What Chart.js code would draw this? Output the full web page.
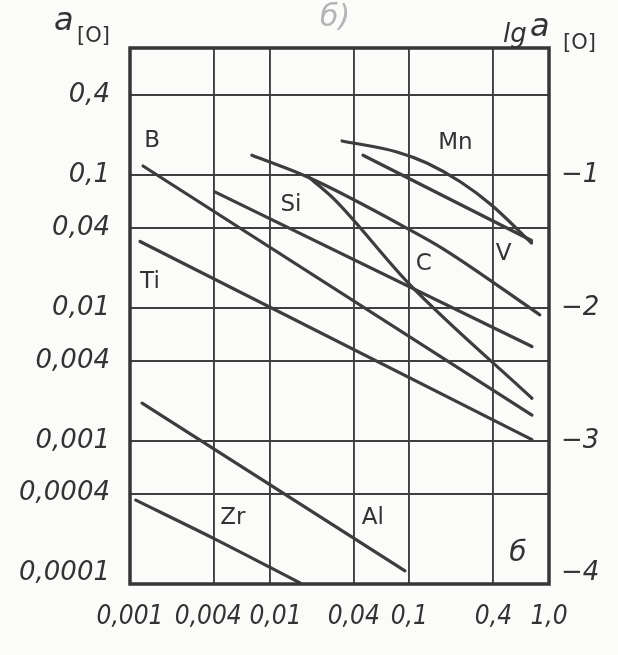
<!DOCTYPE html>
<html>
<head>
<meta charset="utf-8">
<script src="https://cdn.jsdelivr.net/npm/chart.js@4"></script>
<style>
  html, body { margin: 0; padding: 0; background: #fbfbf9; }
</style>
</head>
<body>
<canvas id="myChart" width="618" height="655"></canvas>
<script>
// axes (log-log), labels written with decimal commas as in the original
const xTicks = [0.001, 0.004, 0.01, 0.04, 0.1, 0.4, 1.0];
const xTickLabels = ['0,001', '0,004', '0,01', '0,04', '0,1', '0,4', '1,0'];
const yTicks = [0.4, 0.1, 0.04, 0.01, 0.004, 0.001, 0.0004, 0.0001];
const yTickLabels = ['0,4', '0,1', '0,04', '0,01', '0,004', '0,001', '0,0004', '0,0001'];
const lgTicks = [0.1, 0.01, 0.001, 0.0001];
const lgTickLabels = ['\u22121', '\u22122', '\u22123', '\u22124'];

// curves: element content (x) and a[O] (y)
const mnX = [0.033, 0.0815, 0.1334, 0.2333, 0.3873, 0.75];
const mnY = [0.1806, 0.1493, 0.1233, 0.0887, 0.0595, 0.0308];
const mn2X = [0.0466, 0.75];
const mn2Y = [0.141, 0.0322];
const vX = [0.00746, 0.0194, 0.1, 0.178, 0.86];
const vY = [0.141, 0.095, 0.0389, 0.0275, 0.00887];
const cX = [0.0194, 0.0293, 0.1, 0.755];
const cY = [0.095, 0.065, 0.0151, 0.00209];
const siX = [0.00405, 0.755];
const siY = [0.0747, 0.00512];
const bX = [0.00124, 0.755];
const bY = [0.117, 0.00156];
const tiX = [0.00118, 0.755];
const tiY = [0.0316, 0.00102];
const alX = [0.00122, 0.0931];
const alY = [0.00192, 0.000105];
const zrX = [0.0011, 0.00393, 0.0165];
const zrY = [0.000357, 0.000185, 0.000085];

// text written inside the plot
const noteText = ['B', 'Si', 'Ti', 'Mn', 'C', 'V', 'Al', 'Zr'];
const noteX = [0.00144, 0.0142, 0.00139, 0.214, 0.127, 0.474, 0.0548, 0.00546];
const noteY = [0.182, 0.0597, 0.0156, 0.173, 0.0213, 0.0253, 0.000262, 0.000262];

function pts(xs, ys) {
    return xs.map((x, i) => ({ x: x, y: ys[i] }));
}

function line(label, xs, ys, smooth) {
    return {
        label: label,
        data: pts(xs, ys),
        borderColor: '#3d3d3d',
        borderWidth: 3.2,
        borderCapStyle: 'round',
        pointRadius: 0,
        cubicInterpolationMode: smooth ? 'monotone' : 'default',
        tension: smooth ? 0.4 : 0,
        fill: false,
    };
}

const gridColor = c => (c.tick && c.tick.value === 0.0001) ? 'rgba(0,0,0,0)' : '#3f3f3f';

const paper = {
    id: 'paper',
    beforeDraw(chart) {
        const c = chart.ctx;
        c.save();
        c.fillStyle = '#fbfbf9';
        c.fillRect(0, 0, chart.width, chart.height);
        c.restore();
    },
    afterDatasetsDraw(chart) {
        const c = chart.ctx;
        const a = chart.chartArea;
        const sx = chart.scales.x, sy = chart.scales.y;
        c.save();
        // frame
        c.strokeStyle = '#363636';
        c.lineWidth = 3.5;
        c.strokeRect(a.left, a.top, a.right - a.left, a.bottom - a.top);

        // element names
        c.fillStyle = '#333';
        c.font = '23px "DejaVu Sans"';
        c.textAlign = 'center';
        c.textBaseline = 'middle';
        noteText.forEach((t, i) => {
            c.fillText(t, sx.getPixelForValue(noteX[i]), sy.getPixelForValue(noteY[i]));
        });
        c.font = 'italic 28px "DejaVu Sans"';
        c.fillText('\u0431', a.right - 31, a.bottom - 30);

        // axis titles
        c.textAlign = 'left';
        c.textBaseline = 'alphabetic';
        c.font = 'italic 32px "DejaVu Sans"';
        c.fillText('a', a.left - 76, 30);
        c.font = '21px "DejaVu Sans"';
        c.fillText('[O]', a.left - 53, 42);

        c.font = 'italic 26px "DejaVu Sans"';
        c.fillText('lg', a.right - 46, 42);
        c.font = 'italic 32px "DejaVu Sans"';
        c.fillText('a', a.right - 19, 36);
        c.font = '21px "DejaVu Sans"';
        c.fillText('[O]', a.right + 14, 49);

        // faint part letter at the top
        c.fillStyle = '#b4b4b4';
        c.font = 'italic 30px "DejaVu Sans"';
        c.fillText('\u0431)', 320, 26);
        c.restore();
    }
};

let ctx = document.getElementById('myChart').getContext('2d');
let chart = new Chart(ctx, {
    type: 'line',
    data: {
        datasets: [
            line('Mn', mnX, mnY, true),
            line('Mn 2', mn2X, mn2Y),
            line('V', vX, vY, true),
            line('C', cX, cY, true),
            line('Si', siX, siY),
            line('B', bX, bY),
            line('Ti', tiX, tiY),
            line('Al', alX, alY),
            line('Zr', zrX, zrY, true),
        ]
    },
    options: {
        responsive: false,
        animation: false,
        layout: { padding: { top: 48, left: 0, right: 0, bottom: 0 } },
        plugins: {
            legend: { display: false },
            tooltip: { enabled: false },
        },
        scales: {
            x: {
                type: 'logarithmic',
                min: 0.001,
                max: 1,
                afterBuildTicks: s => { s.ticks = xTicks.map(v => ({ value: v })); },
                afterFit: s => { s.height = 71; },
                ticks: {
                    autoSkip: false,
                    maxRotation: 0,
                    padding: 18,
                    color: '#333',
                    font: { family: 'DejaVu Sans Condensed', style: 'italic', size: 26 },
                    callback: v => {
                        const i = xTicks.indexOf(v);
                        // the two crowded labels sit apart in the original
                        if (i === 1) return xTickLabels[i] + '\u2002';
                        if (i === 2) return '\u2002' + xTickLabels[i];
                        return xTickLabels[i];
                    },
                },
                grid: { color: '#3f3f3f', lineWidth: 1.9, drawTicks: false },
                border: { display: false },
            },
            y: {
                type: 'logarithmic',
                position: 'left',
                min: 0.0000835,
                max: 0.905,
                afterBuildTicks: s => { s.ticks = yTicks.map(v => ({ value: v })); },
                afterFit: s => { s.width = 130; },
                ticks: {
                    autoSkip: false,
                    padding: 20,
                    color: '#333',
                    font: { family: 'DejaVu Sans', style: 'italic', size: 26 },
                    callback: v => yTickLabels[yTicks.indexOf(v)],
                },
                grid: { color: gridColor, lineWidth: 1.9, drawTicks: false },
                border: { display: false },
            },
            y2: {
                type: 'logarithmic',
                position: 'right',
                min: 0.0000835,
                max: 0.905,
                afterBuildTicks: s => { s.ticks = lgTicks.map(v => ({ value: v })); },
                afterFit: s => { s.width = 69; },
                ticks: {
                    autoSkip: false,
                    padding: 12,
                    color: '#333',
                    font: { family: 'DejaVu Sans', style: 'italic', size: 26 },
                    callback: v => lgTickLabels[lgTicks.indexOf(v)],
                },
                grid: { display: false, drawTicks: false },
                border: { display: false },
            }
        }
    },
    plugins: [paper]
});
</script>
</body>
</html>
